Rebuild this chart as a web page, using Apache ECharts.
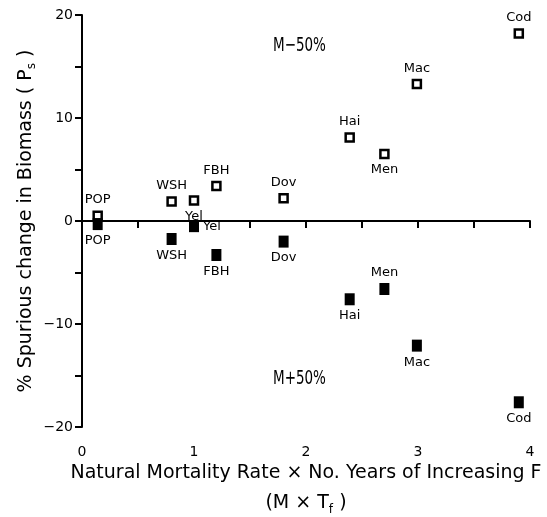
<!DOCTYPE html>
<html>
<head>
<meta charset="utf-8">
<script src="https://cdn.jsdelivr.net/npm/echarts@6/dist/echarts.min.js"></script>
<style>
  html, body { margin: 0; padding: 0; background: #fff; }
  #main { width: 547px; height: 517px; }
</style>
</head>
<body>
<div id="main"></div>
<script>
    // stocks
    var stocks = ['POP', 'WSH', 'Yel', 'FBH', 'Dov', 'Hai', 'Men', 'Mac', 'Cod'];
    // M x Tf
    var mxTf = [0.14, 0.80, 1.00, 1.20, 1.80, 2.39, 2.70, 2.99, 3.90];
    // M-50% (open squares)
    var minus50 = [0.5, 1.9, 2.0, 3.4, 2.2, 8.1, 6.5, 13.3, 18.2];
    // M+50% (filled squares)
    var plus50 = [-0.3, -1.75, -0.5, -3.3, -2.0, -7.6, -6.6, -12.1, -17.6];
    // label side for each point
    var posMinus = ['top', 'top', 'bottom', 'top', 'top', 'top', 'bottom', 'top', 'top'];
    var posPlus = ['bottom', 'bottom', 'right', 'bottom', 'bottom', 'bottom', 'top', 'bottom', 'bottom'];

    var font = 'DejaVu Sans';
    var narrow = '"DejaVu Sans Condensed", "DejaVu Sans"';

    function build(ys, pos) {
        return stocks.map(function (s, i) {
            return {
                name: s,
                value: [mxTf[i], ys[i]],
                label: { position: pos[i] }
            };
        });
    }

    var myChart = echarts.init(document.getElementById('main'));
    var option = {
        backgroundColor: '#fff',
        animation: false,
        grid: { left: 82, right: 17, top: 15, bottom: 90, outerBoundsMode: 'none', containLabel: false },
        xAxis: {
            type: 'value',
            min: 0, max: 4, interval: 0.5,
            axisLine: { lineStyle: { color: '#000', width: 2 } },
            axisTick: { length: 7, lineStyle: { color: '#000', width: 2 } },
            splitLine: { show: false },
            axisLabel: {
                color: '#000', fontFamily: font, fontSize: 14, margin: 18,
                formatter: function (v) { return v % 1 === 0 ? String(v) : ''; }
            },
            name: 'Natural Mortality Rate \u00d7 No. Years of Increasing F\n{p|(M \u00d7 T}{sub|f}{p| )}',
            nameLocation: 'middle',
            nameGap: 31,
            nameMoveOverlap: false,
            nameTextStyle: {
                color: '#000', fontFamily: font, fontSize: 19, lineHeight: 30,
                verticalAlign: 'top',
                rich: {
                    p: { fontFamily: font, fontSize: 19, color: '#000' },
                    sub: { fontFamily: font, fontSize: 12, color: '#000', padding: [14, 0, 0, 0] }
                }
            }
        },
        yAxis: {
            type: 'value',
            min: -20, max: 20, interval: 5,
            axisLine: { lineStyle: { color: '#000', width: 2 } },
            axisTick: { length: 7, lineStyle: { color: '#000', width: 2 } },
            splitLine: { show: false },
            axisLabel: {
                color: '#000', fontFamily: font, fontSize: 14, margin: 9,
                formatter: function (v) {
                    if (v % 10 !== 0) return '';
                    return v < 0 ? '\u2212' + Math.abs(v) : String(v);
                }
            },
            name: '% Spurious change in Biomass ( {p|P}{sub|s}{p| )}',
            nameLocation: 'middle',
            nameRotate: 90,
            nameGap: 44,
            nameMoveOverlap: false,
            nameTextStyle: {
                color: '#000', fontFamily: font, fontSize: 19,
                rich: {
                    p: { fontFamily: font, fontSize: 19, color: '#000' },
                    sub: { fontFamily: font, fontSize: 12, color: '#000', padding: [12, 0, 0, 0] }
                }
            }
        },
        series: [
            {
                name: 'M-50%',
                type: 'scatter',
                symbol: 'rect',
                symbolSize: 8,
                itemStyle: { color: '#fff', borderColor: '#000', borderWidth: 2.5, opacity: 1 },
                label: {
                    show: true, formatter: '{b}', color: '#000',
                    fontFamily: font, fontSize: 13, distance: 4
                },
                data: build(minus50, posMinus),
                markLine: {
                    silent: true,
                    symbol: 'none',
                    label: { show: false },
                    lineStyle: { color: '#000', width: 1.5, type: 'solid' },
                    data: [{ yAxis: 0 }]
                },
                z: 3
            },
            {
                name: 'M+50%',
                type: 'scatter',
                symbol: 'rect',
                symbolSize: [10, 12],
                itemStyle: { color: '#000', opacity: 1 },
                label: {
                    show: true, formatter: '{b}', color: '#000',
                    fontFamily: font, fontSize: 13, distance: 4
                },
                data: build(plus50, posPlus),
                z: 4
            }
        ],
        graphic: [
            { type: 'text', x: 273, y: 36, scaleY: 1.3, style: { text: 'M\u221250%', font: '15px ' + narrow, fill: '#000' } },
            { type: 'text', x: 273, y: 369, scaleY: 1.3, style: { text: 'M+50%', font: '15px ' + narrow, fill: '#000' } }
        ]
    };
    myChart.setOption(option);
</script>
</body>
</html>
